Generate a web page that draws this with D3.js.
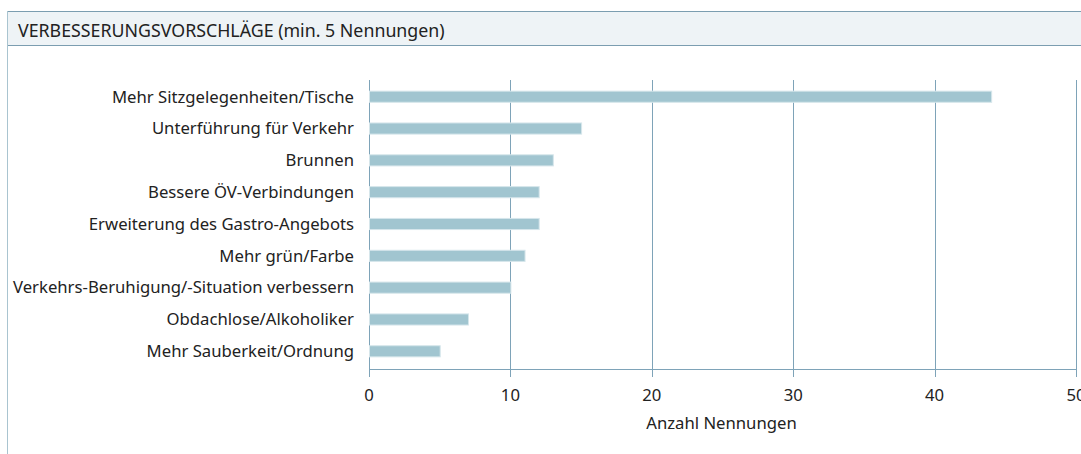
<!DOCTYPE html>
<meta charset="utf-8">
<style>
body { margin: 0; background: #fff; }
svg { font-family: "Noto Sans", sans-serif; }
.grid line { stroke: #7ea3b8; stroke-width: 1px; }
.label { font-size: 16.7px; fill: #222; }
.head { font-size: 17.8px; fill: #222; }
</style>
<svg width="1081" height="454"></svg>
<script src="https://d3js.org/d3.v7.min.js"></script>
<script>
var categories = [
  "Mehr Sitzgelegenheiten/Tische",
  "Unterführung für Verkehr",
  "Brunnen",
  "Bessere ÖV-Verbindungen",
  "Erweiterung des Gastro-Angebots",
  "Mehr grün/Farbe",
  "Verkehrs-Beruhigung/-Situation verbessern",
  "Obdachlose/Alkoholiker",
  "Mehr Sauberkeit/Ordnung"
];
var values = [44, 15, 13, 12, 12, 11, 10, 7, 5];
var ticks = [0, 10, 20, 30, 40, 50];
var title = "VERBESSERUNGSVORSCHLÄGE (min. 5 Nennungen)";
var xTitle = "Anzahl Nennungen";

var svg = d3.select("svg"),
    width = +svg.attr("width"),
    height = +svg.attr("height");

var margin = {top: 80, left: 369, right: 5, bottom: 85};

// header band
svg.append("rect")
    .attr("x", 7).attr("y", 11)
    .attr("width", width - 7).attr("height", 34)
    .attr("fill", "#eef3f6");
svg.append("line")
    .attr("x1", 7).attr("x2", width).attr("y1", 11.5).attr("y2", 11.5)
    .attr("stroke", "#7b9db0");
svg.append("line")
    .attr("x1", 7).attr("x2", width).attr("y1", 45.5).attr("y2", 45.5)
    .attr("stroke", "#7b9db0");
svg.append("line")
    .attr("x1", 7.5).attr("x2", 7.5).attr("y1", 11).attr("y2", height)
    .attr("stroke", "#a9c4d0");
svg.append("text")
    .attr("x", 18).attr("y", 37)
    .attr("class", "head")
    .text(title);

var x = d3.scaleLinear()
    .domain([0, 50])
    .range([margin.left, width - margin.right]);

var y = d3.scaleBand()
    .domain(categories)
    .range([margin.top, 368])
    .paddingInner(0.65)
    .paddingOuter(0.35);

var baseY = 369;

// grid
var grid = svg.append("g").attr("class", "grid");
grid.selectAll("line.v")
    .data(ticks)
    .enter().append("line")
      .attr("x1", function(d) { return Math.round(x(d)) + 0.5; })
      .attr("x2", function(d) { return Math.round(x(d)) + 0.5; })
      .attr("y1", margin.top)
      .attr("y2", baseY + 8)
      .attr("stroke", function(d) { return d === 0 ? "#a3bfcc" : "#7ea3b8"; });
grid.append("line")
    .attr("x1", x(0)).attr("x2", x(50))
    .attr("y1", baseY + 0.5).attr("y2", baseY + 0.5);

// bars
svg.append("g")
  .selectAll("rect")
  .data(values)
  .enter().append("rect")
    .attr("x", x(0) + 0.5)
    .attr("y", function(d, i) { return y(categories[i]); })
    .attr("width", function(d) { return x(d) - x(0); })
    .attr("height", y.bandwidth())
    .attr("fill", "#a1c5d0")
    .attr("stroke", "#d6e6eb")
    .attr("stroke-width", 1);

// category labels
svg.append("g")
  .selectAll("text")
  .data(categories)
  .enter().append("text")
    .attr("class", "label")
    .attr("x", margin.left - 15)
    .attr("y", function(d) { return y(d) + y.bandwidth() / 2; })
    .attr("dy", "0.35em")
    .attr("text-anchor", "end")
    .text(function(d) { return d; });

// tick labels
svg.append("g")
  .selectAll("text")
  .data(ticks)
  .enter().append("text")
    .attr("class", "label")
    .attr("x", function(d) { return x(d); })
    .attr("y", 401)
    .attr("text-anchor", "middle")
    .text(function(d) { return d; });

svg.append("text")
    .attr("class", "label")
    .attr("x", x(25) - 1)
    .attr("y", 429)
    .attr("text-anchor", "middle")
    .text(xTitle);
</script>
